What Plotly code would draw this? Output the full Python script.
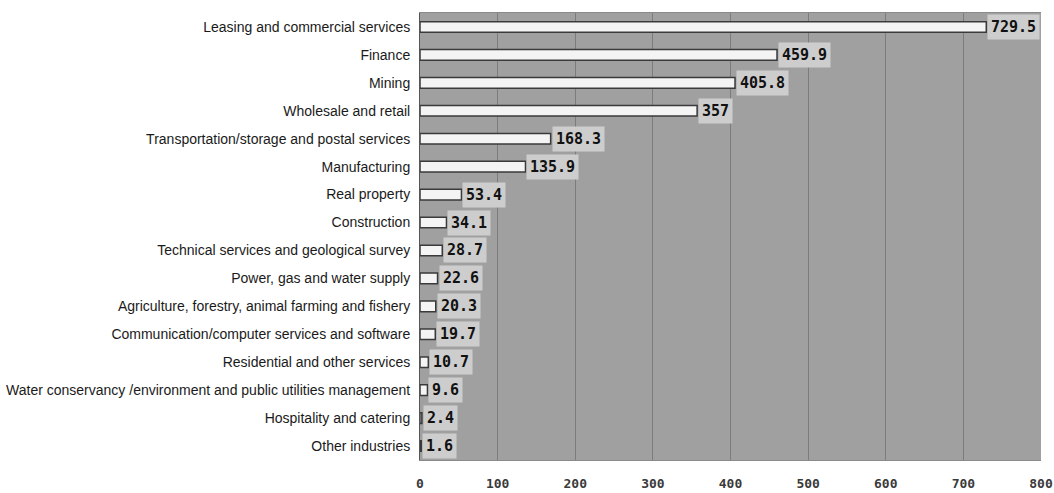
import plotly.graph_objects as go

# Industry categories, listed top to bottom
industries = [
    "Leasing and commercial services",
    "Finance",
    "Mining",
    "Wholesale and retail",
    "Transportation/storage and postal services",
    "Manufacturing",
    "Real property",
    "Construction",
    "Technical services and geological survey",
    "Power, gas and water supply",
    "Agriculture, forestry, animal farming and fishery",
    "Communication/computer services and software",
    "Residential and other services",
    "Water conservancy /environment and public utilities management",
    "Hospitality and catering",
    "Other industries",
]
values = [729.5, 459.9, 405.8, 357, 168.3, 135.9, 53.4, 34.1, 28.7,
          22.6, 20.3, 19.7, 10.7, 9.6, 2.4, 1.6]
x_ticks = [0, 100, 200, 300, 400, 500, 600, 700, 800]

fig = go.Figure()
fig.add_trace(go.Bar(
    y=industries,
    x=values,
    orientation="h",
    width=0.38,
    marker=dict(color="#f4f4f4", line=dict(color="#3a3a3a", width=1.5)),
    hoverinfo="x+y",
))

# Value labels in shaded boxes at the end of each bar
for name, v in zip(industries, values):
    fig.add_annotation(
        x=v, y=name, xref="x", yref="y",
        text=f"{v:g}",
        showarrow=False,
        xanchor="left", yanchor="middle",
        xshift=1,
        font=dict(family="DejaVu Sans Mono", size=15, color="#111111",
                  weight="bold"),
        bgcolor="#cdcdcd",
        borderpad=3,
    )

fig.update_layout(
    width=1054, height=493,
    margin=dict(l=420, r=13, t=13, b=33),
    paper_bgcolor="white",
    plot_bgcolor="#a0a0a0",
    showlegend=False,
    xaxis=dict(
        range=[0, 800],
        tickvals=x_ticks,
        ticktext=[str(t) for t in x_ticks],
        showgrid=True, gridcolor="#7c7c7c", gridwidth=1,
        zeroline=False,
        showline=True, linecolor="#8a8a8a", mirror=True,
        ticks="",
        automargin=False,
        ticklabelstandoff=11,
        tickfont=dict(family="DejaVu Sans Mono", size=13, color="#3a3a3a",
                      weight="bold"),
    ),
    yaxis=dict(
        categoryorder="array",
        categoryarray=industries[::-1],
        showgrid=False,
        showline=True, linecolor="#555555",
        ticks="",
        automargin=False,
        ticklabelstandoff=6,
        tickfont=dict(family="Liberation Sans", size=14, color="#1a1a1a"),
    ),
)

fig.write_html("out.html")
